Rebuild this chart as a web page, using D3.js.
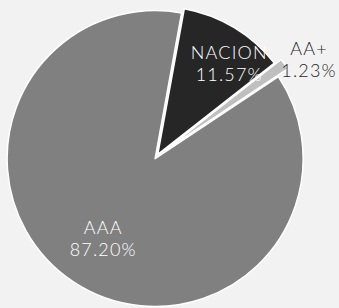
<!DOCTYPE html>
<html>
<head>
<meta charset="utf-8">
<script src="https://cdn.jsdelivr.net/npm/d3@7"></script>
<style>
  html, body { margin: 0; padding: 0; background: #f2f2f2; }
  svg { display: block; }
  text { font-family: "Lato", "Open Sans", sans-serif; font-weight: 300; }
</style>
</head>
<body>
<script>
// ---- data ----
const categories = ["NACION", "AA+", "AAA"];
const values = [11.57, 1.23, 87.20];
const valueLabels = ["11.57%", "1.23%", "87.20%"];

// ---- style / layout ----
const colors = ["#262626", "#bfbfbf", "#808080"];
const textColors = ["#ffffff", "#262626", "#ffffff"];
const explode = [2.5, 10, 2.5];
const labelRadius = [98, 98, 98];
const labelNudge = [[21.5, -9], [72.5, -39.5], [0, 0]];

const W = 339, H = 308;
const cx = 156.5, cy = 156.5, R = 148;
const start = 10.3 * Math.PI / 180;

const svg = d3.select("body").append("svg").attr("width", W).attr("height", H);
svg.append("rect").attr("width", W).attr("height", H).attr("fill", "#f2f2f2");

const pie = d3.pie().sort(null).value(d => d.v)
  .startAngle(start).endAngle(start + 2 * Math.PI);
const data = categories.map((c, i) => ({ c, v: values[i], i }));
const arcs = pie(data);
const arc = d3.arc().innerRadius(0).outerRadius(R);

const g = svg.append("g").attr("transform", `translate(${cx},${cy})`);

g.selectAll("path").data(arcs).join("path")
  .attr("d", arc)
  .attr("fill", d => colors[d.data.i])
  .attr("stroke", "#ffffff")
  .attr("stroke-width", 1.5)
  .attr("stroke-linejoin", "round")
  .attr("transform", d => {
    const m = (d.startAngle + d.endAngle) / 2;
    const e = explode[d.data.i];
    return `translate(${e * Math.sin(m)},${-e * Math.cos(m)})`;
  });

const fs = 18, lh = 22, ls = 1.2;
arcs.forEach(d => {
  const i = d.data.i;
  const la = d3.arc().innerRadius(labelRadius[i]).outerRadius(labelRadius[i]);
  const [x0, y0] = la.centroid(d);
  const x = x0 + labelNudge[i][0] + ls / 2;
  const y = y0 + labelNudge[i][1];
  const t = g.append("text")
    .attr("text-anchor", "middle")
    .attr("font-size", fs)
    .attr("letter-spacing", ls)
    .attr("fill", textColors[i]);
  t.append("tspan").attr("x", x).attr("y", y - lh / 2 + 6.5).text(categories[i]);
  t.append("tspan").attr("x", x).attr("y", y + lh / 2 + 6.5).text(valueLabels[i]);
});
</script>
</body>
</html>
